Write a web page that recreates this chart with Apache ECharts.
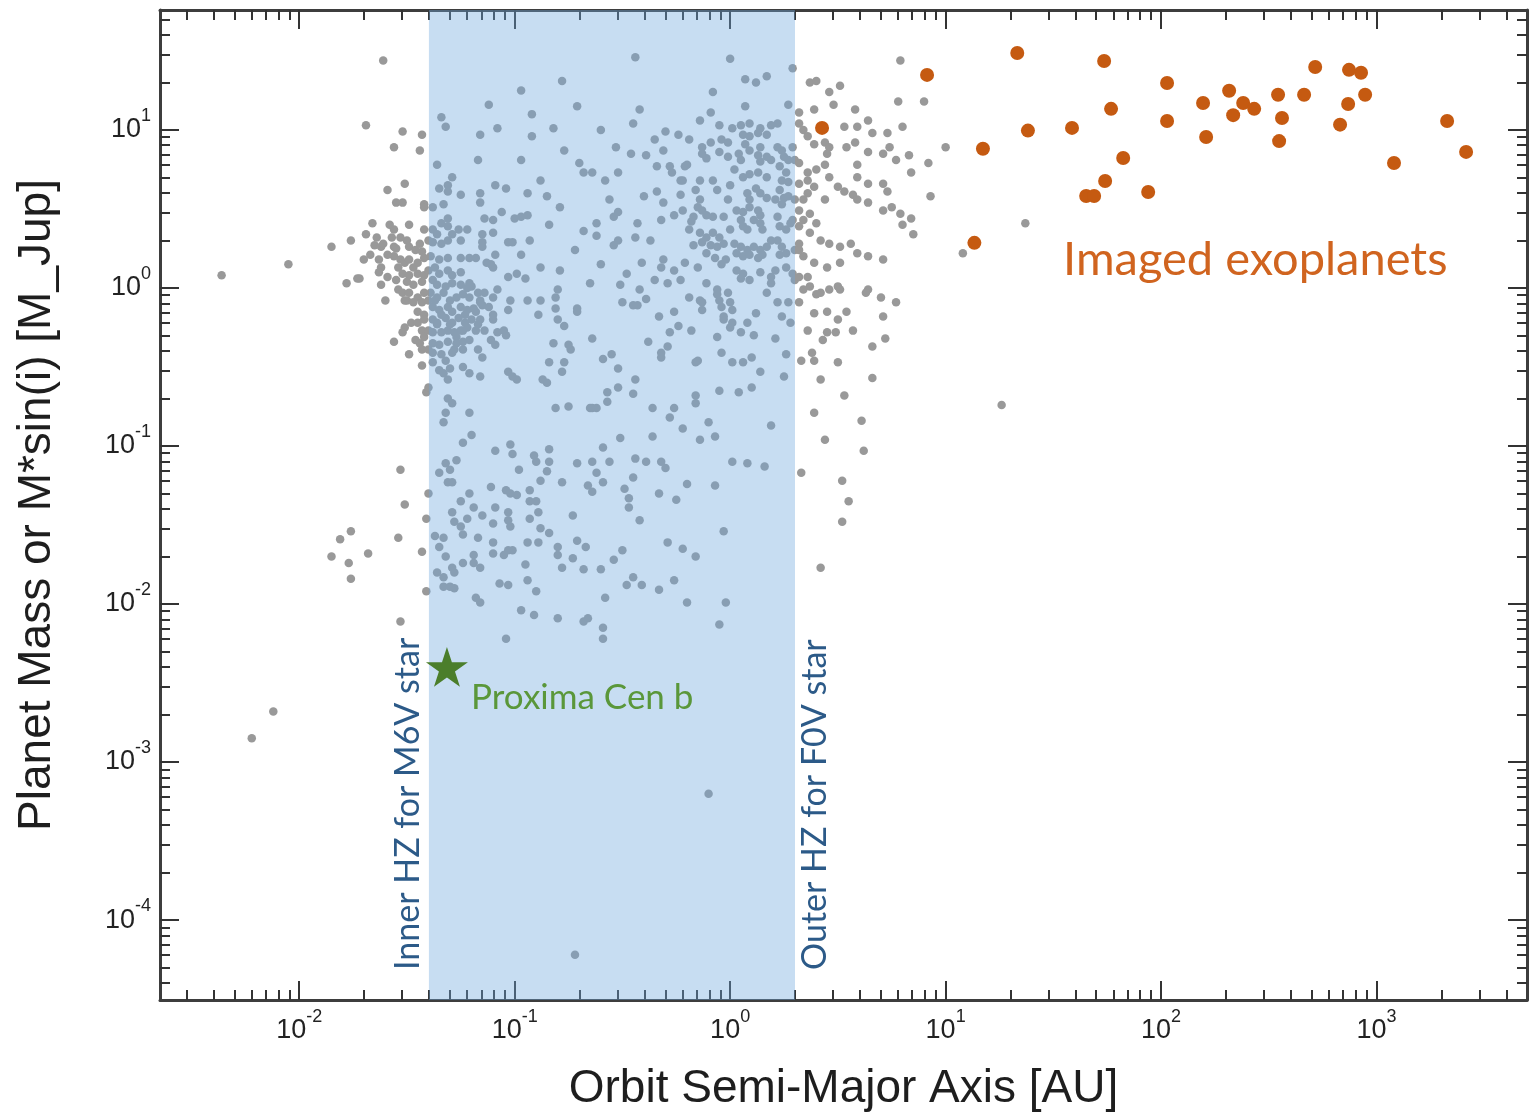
<!DOCTYPE html>
<html>
<head>
<meta charset="utf-8">
<title>Planet mass vs orbit semi-major axis</title>
<script src="https://cdn.jsdelivr.net/npm/echarts@6/dist/echarts.min.js"></script>
<style>
  html, body { margin: 0; padding: 0; background: #fff; }
  #chart { width: 1535px; height: 1115px; }
</style>
</head>
<body>
<div id="chart"></div>
<script>
// axis extents, AU and M_Jup
const xRange = [0.00226, 4990];
const yRange = [3.12e-5, 57.4];

// habitable zone band edges [AU]
const hzInner = 0.04;   // inner HZ for M6V star
const hzOuter = 2.0;    // outer HZ for F0V star

// RV / transit planets as [log10 a(AU), log10 M(M_Jup)]
const hotGiants = [
  [-1.51,0.66],[-1.59,0.62],[-1.55,0.54],[-1.52,0.54],[-1.42,0.53],[-1.42,0.51],[-1.66,0.41],[-1.58,0.40],
  [-1.56,0.37],[-1.49,0.40],[-1.42,0.37],[-1.64,0.32],[-1.65,0.27],[-1.62,0.26],[-1.61,0.28],[-1.57,0.32],
  [-1.56,0.26],[-1.55,0.25],[-1.50,0.30],[-1.49,0.26],[-1.44,0.28],[-1.43,0.23],[-1.70,0.18],[-1.63,0.18],
  [-1.62,0.13],[-1.63,0.10],[-1.59,0.07],[-1.56,0.20],[-1.53,0.18],[-1.54,0.13],[-1.51,0.16],[-1.49,0.18],
  [-1.47,0.13],[-1.45,0.16],[-1.42,0.19],[-1.52,0.09],[-1.49,0.08],[-1.45,0.09],[-1.42,0.08],[-1.50,0.04],
  [-1.47,0.02],[-1.43,0.04],[-1.54,-0.01],[-1.52,-0.03],[-1.49,-0.03],[-1.45,-0.06],[-1.42,-0.03],[-1.43,-0.09],
  [-1.50,-0.08],[-1.47,-0.09],[-1.45,-0.15],[-1.42,-0.17],[-1.48,-0.22],[-1.45,-0.22],[-1.42,-0.20],[-1.51,-0.25],
  [-1.52,-0.28],[-1.43,-0.27],[-1.42,-0.31],[-1.56,-0.34],[-1.44,-0.35],[-1.43,-0.39],[-1.43,-0.49],[-1.72,0.06],
  [-1.78,0.03],[-1.73,0.06],[-1.76,0.30],[-1.85,0.26],[-1.61,1.44],[-1.69,1.03],[-1.52,0.99],[-1.43,0.97],
  [-1.56,0.89],[-1.44,0.87],[-1.41,-0.66],[-1.40,-0.63],
  [-1.36,0.78],[-1.34,1.08],[-1.32,1.02],[-1.29,0.70],[-1.31,0.65],[-1.31,0.61],[-1.35,0.63],[-1.25,0.59],
  [-1.16,0.60],[-1.16,0.54],[-1.09,0.65],[-1.38,0.51],[-1.33,0.53],[-1.31,0.44],[-1.34,0.41],[-1.31,0.39],
  [-1.14,0.44],[-1.10,0.43],[-1.38,0.37],[-1.36,0.34],[-1.38,0.29],[-1.34,0.28],[-1.31,0.30],[-1.29,0.34],
  [-1.26,0.37],[-1.25,0.30],[-1.22,0.37],[-1.15,0.34],[-1.15,0.29],[-1.15,0.26],[-1.10,0.35],[-1.39,0.20],
  [-1.35,0.18],[-1.31,0.19],[-1.25,0.19],[-1.21,0.19],[-1.18,0.19],[-1.13,0.16],[-1.10,0.13],[-1.37,0.13],
  [-1.35,0.09],[-1.31,0.11],[-1.29,0.08],[-1.25,0.10],[-1.38,0.05],[-1.36,0.02],[-1.32,0.01],[-1.29,0.03],
  [-1.25,0.02],[-1.22,0.00],[-1.21,0.03],[-1.39,-0.03],[-1.36,-0.06],[-1.33,-0.03],[-1.30,-0.08],[-1.27,-0.06],
  [-1.24,-0.04],[-1.21,-0.06],[-1.17,-0.03],[-1.14,-0.03],[-1.10,-0.06],[-1.08,-0.01],[-1.38,-0.12],[-1.35,-0.14],
  [-1.31,-0.12],[-1.29,-0.15],[-1.25,-0.12],[-1.22,-0.14],[-1.19,-0.13],[-1.16,-0.09],[-1.12,-0.12],[-1.38,-0.20],
  [-1.36,-0.22],[-1.32,-0.19],[-1.29,-0.22],[-1.26,-0.19],[-1.23,-0.22],[-1.20,-0.20],[-1.17,-0.23],[-1.38,-0.28],
  [-1.34,-0.28],[-1.31,-0.27],[-1.28,-0.28],[-1.24,-0.27],[-1.22,-0.25],[-1.18,-0.27],[-1.38,-0.35],[-1.35,-0.36],
  [-1.31,-0.34],[-1.27,-0.35],[-1.24,-0.34],[-1.38,-0.41],[-1.34,-0.42],[-1.29,-0.41],[-1.24,-0.39],[-1.38,-0.47],
  [-1.35,-0.52],[-1.30,-0.51],[-1.24,-0.50],[-1.21,-0.54],[-1.16,-0.56],[-1.17,-0.39],[-1.15,-0.44],[-1.08,-0.28],
  [-1.09,-0.36],[-1.10,-0.17],[-1.10,-0.20],[-1.15,-0.11],[-1.05,-0.27],[-1.04,-0.30],[-1.33,-0.54],[-1.31,-0.58],
  [-1.32,-0.79],[-1.33,-0.85],[-1.31,-0.70],[-1.29,-0.73],[-1.21,-0.79],[-1.20,-0.93],[-1.24,-0.98],[-1.03,-0.53],
  [-1.01,-0.56],[-0.99,-0.58],[-1.16,-0.08],[-1.20,0.01],[-1.17,0.81],[-1.16,0.97],[-1.08,1.01],[-1.12,1.16],
  [-1.37,-0.08],[-1.34,-0.17],[-1.30,-0.23],[-1.27,-0.31],[-1.23,-0.17],[-1.21,-0.33],[-1.28,-0.39],[-1.32,-0.46],
  [-1.36,-0.23],[-1.18,-0.15],[-1.16,-0.20],[-1.14,-0.27],[-1.11,-0.33],[-1.25,-0.27],[-1.40,-0.08],[-1.40,-0.27],
  [-1.40,-0.39],[-1.40,0.11],[-1.40,0.30],[-1.46,0.24],[-1.53,0.32],[-1.59,0.21],[-1.67,0.21],[-1.69,0.34],
  [-1.55,0.05],[-1.51,-0.08],[-1.46,-0.33],[-1.49,-0.42],[-1.60,-0.08],[-1.62,0.02]
];

const warmPlanets = [
  [-0.78,1.31],[-0.71,1.15],[-0.92,1.10],[-0.44,1.46],[-0.45,1.04],[-0.92,0.96],[-0.82,1.01],[-0.53,0.89],
  [-0.46,0.85],[-0.39,0.84],[-0.70,0.79],[-0.68,0.73],[-0.64,0.73],[-0.52,0.73],[-0.58,0.68],[-0.34,0.77],
  [-0.20,0.78],[-0.23,0.68],[-1.04,0.63],[-0.94,0.60],[-0.85,0.58],[-0.79,0.51],[-1.06,0.48],[-1.00,0.44],
  [-0.97,0.45],[-0.94,0.46],[-0.40,0.58],[-0.34,0.61],[-0.54,0.45],[-0.52,0.48],[-0.43,0.41],[-0.62,0.41],
  [-0.62,0.33],[-0.68,0.36],[-0.44,0.32],[-0.54,0.27],[-0.52,0.30],[-1.03,0.29],[-1.01,0.29],[-0.97,0.21],
  [-1.09,0.21],[-1.11,0.15],[-1.03,0.07],[-0.99,0.09],[-0.95,0.06],[-0.88,0.13],[-0.65,0.03],[-0.48,0.09],
  [-0.41,0.16],[-0.80,-0.01],[-1.02,-0.08],[-0.94,-0.08],[-0.88,-0.08],[-0.81,-0.06],[-0.71,-0.13],[-0.50,-0.09],
  [-0.45,-0.11],[-0.39,-0.07],[-0.14,-0.08],[-1.03,-0.14],[-0.81,-0.13],[-0.80,-0.20],[-0.77,-0.24],[-0.89,-0.17],
  [-0.71,-0.15],[-0.64,-0.32],[-0.82,-0.35],[-0.75,-0.36],[-0.74,-0.39],[-0.59,-0.45],[-0.55,-0.42],[-0.84,-0.47],
  [-0.77,-0.47],[-0.78,-0.53],[-0.52,-0.51],[-0.87,-0.58],[-0.85,-0.60],[-0.44,-0.58],[-0.45,-0.67],[-0.52,-0.63],
  [-0.57,-0.66],[-0.57,-0.72],[-0.62,-0.76],[-0.64,-0.76],[-0.65,-0.76],[-0.81,-0.76],[-0.75,-0.75],[-0.43,-0.11],
  [-0.33,-0.18],[-0.06,-0.04],[0.01,-0.14],[-0.03,-0.18],[0.01,-0.22],[-0.06,-0.31],[-0.04,-0.41],[0.00,-0.25],
  [-0.18,-0.27],[-0.24,-0.24],[-0.28,-0.28],[-0.38,-0.34],[-0.29,-0.37],[-0.32,-0.41],[-0.32,-0.44],[-0.15,-0.46],
  [-0.16,-0.47],[-0.16,-0.68],[-0.16,-0.73],[-0.36,-0.76],[-0.26,-0.76],[-0.28,-0.82],[-0.22,-0.89],[-0.10,-0.85],
  [-0.14,-0.96],[-0.07,-0.94],[-0.36,-0.94],[-0.51,-0.95],[-0.59,-1.01],[0.04,-0.66],[0.10,-0.63],[-0.05,-0.65],
  [0.01,-0.47],[0.06,-0.47],[0.10,-0.44],[0.14,-0.53],[0.25,-0.56],[0.26,-0.42],[0.21,-0.32],[0.24,-0.18],
  [0.28,-0.22],[0.11,-0.30],[0.05,-0.28],[0.08,-0.22],[-0.05,-0.08],[-0.03,-0.20],[0.19,-0.87],[0.01,-1.10],
  [0.08,-1.11],[0.16,-1.13],
  [-0.97,0.81],[-0.88,0.68],[-0.77,0.87],[-0.60,1.00],[-0.56,0.56],[-0.72,0.24],[-0.79,0.11],[-0.60,0.15],
  [-0.51,0.02],[-0.93,0.30],[-0.84,0.40],[-0.35,0.94],[-0.42,1.13],[-0.97,1.25]
];

const coldGiants = [
  [-0.08,1.24],[0.07,1.15],[0.27,1.16],[-0.09,1.11],[-0.30,0.99],[-0.24,0.97],[0.01,1.01],[0.05,1.03],
  [0.09,1.04],[0.14,1.01],[0.19,1.03],[0.22,1.04],[0.06,0.97],[0.09,0.96],[0.13,0.98],[0.17,0.97],
  [-0.31,0.87],[-0.13,0.89],[-0.09,0.92],[-0.13,0.85],[-0.11,0.82],[-0.04,0.94],[-0.01,0.92],[-0.05,0.86],
  [-0.01,0.83],[0.04,0.85],[0.05,0.81],[0.09,0.87],[0.13,0.84],[0.14,0.89],[0.17,0.83],[0.14,0.80],
  [0.22,0.89],[0.24,0.87],[0.25,0.83],[0.27,0.81],[0.29,0.89],[-0.28,0.77],[-0.27,0.73],[-0.21,0.77],
  [-0.22,0.68],[-0.08,0.68],[0.02,0.75],[0.06,0.70],[0.09,0.72],[0.13,0.73],[0.17,0.70],[0.23,0.77],
  [0.26,0.73],[0.24,0.68],[0.27,0.67],[-0.06,0.62],[-0.01,0.56],[0.08,0.60],[0.12,0.63],[0.14,0.60],
  [0.17,0.57],[0.09,0.56],[0.23,0.62],[0.25,0.57],[0.27,0.58],[0.24,0.53],[-0.31,0.54],[-0.26,0.46],
  [-0.22,0.49],[-0.15,0.51],[-0.13,0.49],[-0.11,0.46],[-0.08,0.45],[-0.17,0.45],[-0.18,0.42],[-0.03,0.45],
  [0.03,0.49],[0.06,0.48],[0.09,0.51],[0.13,0.49],[0.14,0.46],[0.11,0.43],[0.05,0.43],[0.06,0.39],
  [0.08,0.37],[0.14,0.41],[0.15,0.37],[0.22,0.45],[0.23,0.39],[0.26,0.37],[0.28,0.41],[0.29,0.43],
  [-0.14,0.35],[-0.11,0.32],[-0.08,0.35],[-0.05,0.32],[-0.13,0.29],[-0.09,0.27],[-0.06,0.26],[-0.03,0.28],
  [-0.17,0.27],[0.02,0.28],[0.05,0.26],[0.08,0.24],[0.11,0.26],[0.14,0.24],[0.03,0.22],[0.06,0.20],
  [0.09,0.21],[0.13,0.19],[0.15,0.21],[0.17,0.26],[0.22,0.30],[0.24,0.26],[0.26,0.22],[0.23,0.21],
  [-0.11,0.22],[-0.07,0.19],[-0.04,0.15],[-0.21,0.16],[-0.31,0.18],[-0.15,0.13],[0.03,0.11],[0.06,0.09],
  [0.05,0.06],[0.09,0.05],[0.14,0.10],[0.19,0.07],[0.21,0.11],[0.26,0.13],[0.29,0.09],[-0.26,0.11],
  [-0.23,0.05],[-0.29,0.03],[-0.11,0.03],[-0.06,-0.01],[-0.01,-0.03],[0.00,-0.09],[-0.04,-0.12],[-0.19,-0.06],
  [-0.13,-0.09],[-0.13,-0.14],[0.19,0.03],[0.17,-0.03],[0.22,-0.09],[0.27,-0.09],[0.12,-0.16],[-0.26,-0.15],
  [-0.32,0.13],[0.00,1.45],[0.07,1.32],[0.12,1.30],[0.17,1.34],[0.29,1.39],
  [-0.16,0.62],[-0.14,0.56],[-0.19,0.37],[0.00,0.37],[-0.02,0.18],[0.19,0.30],[0.30,0.24],[0.30,0.81],
  [0.30,0.56],[0.30,0.05],[-0.14,1.06],[-0.19,0.94],[0.21,0.56],[0.00,0.65],[0.19,0.81],[0.07,0.91],
  [-0.05,1.03],[-0.14,0.68],[-0.23,0.59],[-0.32,0.43],[-0.37,0.30],[-0.35,0.05],[-0.42,-0.01],
  [0.37,1.30],[0.40,1.31],[0.46,1.24],[0.51,1.28],[0.39,1.13],[0.48,1.16],[0.58,1.13],[0.79,1.44],
  [0.78,1.18],[0.90,1.18],[0.80,1.02],[1.00,0.89],[0.92,0.79],[0.93,0.58],[0.84,0.73],[0.85,0.34],
  [0.80,0.40],[0.84,0.44],[1.08,0.22],[0.71,0.18],[0.64,-0.01],[0.70,-0.06],[0.77,-0.09],[0.53,1.02],
  [0.59,1.02],[0.64,1.06],[0.66,0.98],[0.73,0.98],[0.32,1.04],[0.34,1.00],[0.39,0.91],[0.44,0.92],
  [0.46,0.89],[0.45,0.85],[0.54,0.89],[0.58,0.92],[0.64,0.86],[0.71,0.85],[0.74,0.89],[0.77,0.81],
  [0.83,0.84],[0.59,0.78],[0.59,0.70],[0.64,0.66],[0.71,0.66],[0.73,0.61],[0.32,0.79],[0.36,0.73],
  [0.40,0.75],[0.44,0.78],[0.46,0.70],[0.50,0.64],[0.53,0.61],[0.57,0.59],[0.59,0.56],[0.64,0.54],
  [0.71,0.49],[0.75,0.51],[0.36,0.60],[0.39,0.64],[0.44,0.56],[0.32,0.49],[0.37,0.47],[0.40,0.41],
  [0.32,0.39],[0.37,0.35],[0.42,0.30],[0.46,0.28],[0.51,0.26],[0.56,0.28],[0.59,0.22],[0.64,0.20],
  [0.32,0.28],[0.34,0.20],[0.39,0.16],[0.45,0.13],[0.51,0.16],[0.32,0.07],[0.37,0.01],[0.42,-0.03],
  [0.50,0.01],[0.79,0.47],[0.32,1.11],[0.36,0.96],[0.36,0.68],[0.32,0.66],[0.34,0.56],[0.34,0.43],
  [0.32,0.24],[0.36,0.07],[0.34,-0.01],[0.32,-0.09],
  [0.33,-1.17],[0.42,-1.77],[0.52,-1.48],[0.55,-1.35],[0.52,-1.22],[0.62,-1.03],[0.44,-0.96],[0.61,-0.84],
  [0.39,-0.79],[0.53,-0.68],[0.66,-0.57],[0.42,-0.58],[0.33,-0.46],[0.39,-0.46],[0.38,-0.41],[0.50,-0.47],
  [0.66,-0.37],[0.72,-0.32],[0.36,-0.27],[0.43,-0.33],[0.45,-0.28],[0.49,-0.28],[0.50,-0.20],[0.57,-0.27],
  [0.54,-0.15],[0.45,-0.15],[0.39,-0.16],[0.71,-0.18],[0.63,-0.03],[0.40,-0.04],[0.46,-0.01],[0.51,-0.01]
];

const lowMass = [
  [-1.09,-1.03],[-1.02,-0.99],[-1.01,-1.05],[-0.91,-1.06],[-0.90,-1.10],[-0.84,-1.02],[-0.84,-1.10],[-0.85,-1.16],
  [-0.88,-1.22],[-0.98,-1.15],[-0.71,-1.11],[-0.64,-1.10],[-0.62,-1.17],[-0.56,-1.10],[-0.78,-1.23],[-0.66,-1.25],
  [-0.64,-1.29],[-0.59,-1.23],[-0.45,-1.20],[-0.49,-1.27],[-0.47,-1.33],[-0.47,-1.39],[-0.44,-1.08],[-0.39,-1.10],
  [-0.32,-1.10],[-0.30,-1.14],[-0.42,-1.47],[-0.33,-1.30],[-0.25,-1.34],[-0.20,-1.24],[-0.07,-1.25],[-0.03,-1.54],
  [-1.27,-1.09],[-1.30,-1.15],[-1.32,-1.11],[-1.35,-1.17],[-1.31,-1.23],[-1.29,-1.23],[-1.21,-1.30],[-1.25,-1.35],
  [-1.29,-1.42],[-1.28,-1.48],[-1.25,-1.51],[-1.24,-1.56],[-1.33,-1.58],[-1.35,-1.64],[-1.32,-1.70],[-1.29,-1.77],
  [-1.28,-1.80],[-1.33,-1.83],[-1.37,-1.57],[-1.36,-1.80],[-1.30,-1.89],[-1.28,-1.90],[-1.33,-1.89],[-1.40,-1.30],
  [-1.41,-1.46],[-1.43,-1.67],[-1.41,-1.92],[-1.11,-1.26],[-1.04,-1.28],[-1.02,-1.30],[-0.99,-1.31],[-0.93,-1.28],
  [-0.93,-1.35],[-0.90,-1.35],[-1.19,-1.39],[-1.22,-1.46],[-1.15,-1.44],[-1.09,-1.39],[-1.03,-1.42],[-1.03,-1.47],
  [-1.02,-1.51],[-1.10,-1.49],[-0.93,-1.46],[-0.89,-1.42],[-1.17,-1.58],[-1.10,-1.61],[-1.10,-1.68],[-1.05,-1.69],
  [-1.03,-1.66],[-1.01,-1.66],[-0.94,-1.61],[-0.89,-1.61],[-0.88,-1.52],[-0.84,-1.55],[-0.80,-1.64],[-0.80,-1.69],
  [-0.78,-1.77],[-0.73,-1.44],[-0.71,-1.60],[-0.67,-1.64],[-0.73,-1.71],[-0.68,-1.78],[-0.60,-1.78],[-0.54,-1.72],
  [-0.50,-1.66],[-1.19,-1.69],[-1.19,-1.74],[-1.24,-1.74],[-1.16,-1.77],[-0.95,-1.75],[-0.94,-1.85],[-0.90,-1.92],
  [-1.07,-1.87],[-1.03,-1.88],[-1.18,-1.96],[-1.16,-1.99],[-0.97,-2.04],[-0.91,-2.07],[-0.80,-2.09],[-0.68,-2.11],
  [-0.66,-2.09],[-0.59,-2.15],[-0.58,-1.96],[-0.48,-1.88],[-0.45,-1.83],[-0.41,-1.88],[-0.33,-1.91],[-0.26,-1.85],
  [-0.29,-1.61],[-0.22,-1.65],[-0.16,-1.70],[-0.20,-1.99],[-0.02,-1.99],[-0.05,-2.13],[-1.04,-2.22],[-0.59,-2.22],
  [-1.53,-2.11],[-0.10,-3.20],[-0.72,-4.22],[-2.22,-2.85],[-2.12,-2.68],[-1.53,-1.15],[-1.51,-1.37],[-1.54,-1.58],
  [-1.81,-1.59],[-1.76,-1.54],[-1.85,-1.70],[-1.77,-1.74],[-1.76,-1.84],[-1.68,-1.68]
];

const strays = [[-2.36,0.08],[-2.05,0.15],[1.37,0.41],[1.26,-0.74]];

// directly imaged planets: semi-major axis [AU] and mass [M_Jup]
const imagedA = [2.67, 8.2, 13.6, 14.9, 21.5, 24.1, 38.6, 54.4, 58.6, 66.7, 55.0, 44.9, 48.9, 87.1,
  106.6, 106.6, 156.6, 161.8, 206.9, 240.4, 270.4, 216, 349, 364, 353, 461, 519, 745, 847, 885,
  738, 677, 2125, 2603, 1205];
const imagedM = [10.3, 22.3, 1.93, 7.6, 30.7, 9.9, 10.3, 27.3, 13.6, 6.65, 4.75, 3.82, 3.82, 4.05,
  19.8, 11.4, 14.8, 9.03, 17.7, 14.8, 13.6, 12.4, 16.7, 11.9, 8.5, 16.7, 25.0, 24.0, 23.0, 16.7,
  14.6, 10.8, 11.4, 7.26, 6.18];

// Proxima Cen b
const proxima = { a: 0.0485, m: 0.004 };

// text anchors [AU, M_Jup]
const notes = [
  { text: 'Imaged exoplanets', a: 35.1, m: 1.5, color: '#d0641f', size: 47, rotate: 0 },
  { text: 'Proxima Cen b', a: 0.0628, m: 0.00254, color: '#5a973a', size: 35, rotate: 0 },
  { text: 'Inner HZ for M6V star', a: 0.032, m: 4.83e-5, color: '#2c5a88', size: 34, rotate: 90 },
  { text: 'Outer HZ for F0V star', a: 2.48, m: 4.83e-5, color: '#2c5a88', size: 34, rotate: 90 }
];

const lg = Math.log10;
const xMin = lg(xRange[0]), xMax = lg(xRange[1]);
const yMin = lg(yRange[0]), yMax = lg(yRange[1]);

// decade ticks and the 2..9 ticks in between
function decades(lo, hi) {
  const out = [];
  for (let n = Math.ceil(lo); n <= Math.floor(hi); n++) out.push(n);
  return out;
}
function subTicks(lo, hi) {
  const out = [];
  for (let n = Math.floor(lo); n <= Math.ceil(hi); n++) {
    for (let k = 2; k <= 9; k++) {
      const v = n + lg(k);
      if (v > lo && v < hi) out.push(v);
    }
  }
  return out;
}

const labelRich = {
  b: { fontSize: 27, fontFamily: 'Liberation Sans', color: '#222', lineHeight: 46, verticalAlign: 'middle' },
  s: { fontSize: 18, fontFamily: 'Liberation Sans', color: '#222', lineHeight: 18, verticalAlign: 'top' }
};

function axis(dim, position, major, withLabel, extra) {
  const lo = dim === 'x' ? xMin : yMin;
  const hi = dim === 'x' ? xMax : yMax;
  const ax = {
    type: 'value',
    position: position,
    min: lo,
    max: hi,
    axisLine: { show: major, onZero: false, lineStyle: { color: '#3d3d3d', width: 3 } },
    axisTick: {
      show: true,
      inside: true,
      length: major ? 19 : 10,
      customValues: major ? decades(lo, hi) : subTicks(lo, hi),
      lineStyle: { color: '#333', width: 2 }
    },
    axisLabel: withLabel ? {
      show: true,
      customValues: decades(lo, hi),
      margin: dim === 'x' ? 8 : 9,
      formatter: v => '{b|10}{s|' + Math.round(v) + '}',
      rich: labelRich
    } : { show: false },
    splitLine: { show: false }
  };
  return Object.assign(ax, extra || {});
}

const grayData = [].concat(hotGiants, warmPlanets, coldGiants, lowMass, strays);

const chart = echarts.init(document.getElementById('chart'));
chart.setOption({
  animation: false,
  backgroundColor: '#fff',
  grid: { left: 160, top: 10, right: 8, bottom: 115, containLabel: false, outerBoundsMode: 'none' },
  xAxis: [
    axis('x', 'bottom', true, true, {
      name: 'Orbit Semi-Major Axis [AU]',
      nameLocation: 'middle',
      nameGap: 66,
      nameTextStyle: { fontSize: 46, fontFamily: 'Liberation Sans', color: '#1e1e1e' }
    }),
    axis('x', 'bottom', false, false),
    axis('x', 'top', true, false),
    axis('x', 'top', false, false)
  ],
  yAxis: [
    axis('y', 'left', true, true, {
      name: 'Planet Mass or M*sin(i) [M_Jup]',
      nameLocation: 'middle',
      nameGap: 100,
      nameTextStyle: { fontSize: 46, fontFamily: 'Liberation Sans', color: '#1e1e1e' }
    }),
    axis('y', 'left', false, false),
    axis('y', 'right', true, false),
    axis('y', 'right', false, false)
  ],
  series: [
    {
      name: 'Known planets',
      type: 'scatter',
      data: grayData,
      symbolSize: 8.5,
      itemStyle: { color: '#999999', opacity: 1 },
      z: 2,
      silent: true
    },
    {
      // translucent HZ band, drawn over the known planets and the frame
      name: 'Habitable zone',
      type: 'custom',
      silent: true,
      z: 3,
      data: [[lg(hzInner), lg(hzOuter)]],
      encode: { x: [0, 1] },
      renderItem: (params, api) => {
        const p0 = api.coord([api.value(0), yMax]);
        const p1 = api.coord([api.value(1), yMin]);
        return {
          type: 'rect',
          shape: { x: p0[0], y: p0[1], width: p1[0] - p0[0], height: p1[1] - p0[1] },
          style: { fill: 'rgba(112,167,221,0.39)' }
        };
      }
    },
    {
      name: 'Imaged exoplanets',
      type: 'scatter',
      data: imagedA.map((a, i) => [lg(a), lg(imagedM[i])]),
      symbolSize: 14,
      itemStyle: { color: '#c55a11', opacity: 1 },
      z: 4
    },
    {
      name: 'Proxima Cen b',
      type: 'scatter',
      data: [[lg(proxima.a), lg(proxima.m)]],
      symbol: 'path://M50 0 L61.2 34.5 L97.6 34.5 L68.2 55.9 L79.4 90.5 L50 69.1 L20.6 90.5 L31.8 55.9 L2.4 34.5 L38.8 34.5 Z',
      symbolKeepAspect: true,
      symbolSize: 42,
      itemStyle: { color: '#4b7e2b', opacity: 1 },
      z: 5
    },
    {
      name: 'notes',
      type: 'scatter',
      symbolSize: 0,
      silent: true,
      z: 6,
      itemStyle: { opacity: 1 },
      data: notes.map(n => ({
        value: [lg(n.a), lg(n.m)],
        label: {
          show: true,
          formatter: n.text,
          position: n.rotate ? 'inside' : 'right',
          distance: 0,
          rotate: n.rotate,
          align: 'left',
          verticalAlign: 'middle',
          color: n.color,
          fontSize: n.size,
          fontFamily: 'Lato'
        }
      }))
    }
  ]
});
</script>
</body>
</html>
